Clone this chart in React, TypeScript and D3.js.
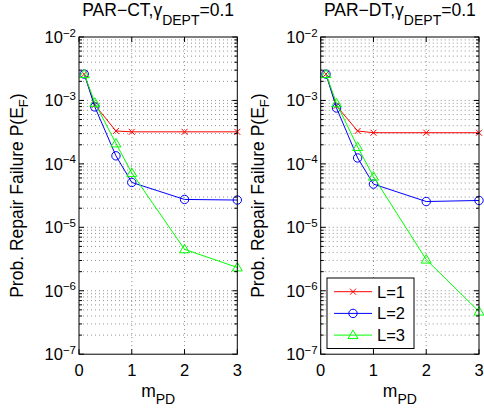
import React from "react";
import * as d3 from "d3";

const xValues = [0.1, 0.3, 0.7, 1, 2, 3];
const seriesNames = ["L=1", "L=2", "L=3"];
const seriesColors = ["#ff0000", "#0000ff", "#00ff00"];
const seriesMarkers = ["x", "o", "^"];

const ctL1 = [2.6e-3, 8.5e-4, 3.3e-4, 3.2e-4, 3.2e-4, 3.2e-4];
const ctL2 = [2.6e-3, 7.9e-4, 1.34e-4, 5.1e-5, 2.75e-5, 2.69e-5];
const ctL3 = [2.6e-3, 9.2e-4, 2.1e-4, 7.2e-5, 4.5e-6, 2.33e-6];

const dtL1 = [2.6e-3, 8.2e-4, 3.3e-4, 3.1e-4, 3.1e-4, 3.1e-4];
const dtL2 = [2.6e-3, 7.6e-4, 1.24e-4, 4.8e-5, 2.55e-5, 2.65e-5];
const dtL3 = [2.6e-3, 9.0e-4, 1.85e-4, 6.3e-5, 3.1e-6, 4.7e-7];

const panelTitles = ["PAR\u2212CT,", "PAR\u2212DT,"];
const xTicks = [0, 1, 2, 3];
const yTickExps = [-2, -3, -4, -5, -6, -7];

const FONT = "'Liberation Sans', Arial, Helvetica, sans-serif";

function Marker({ type, x, y, color }: { type: string; x: number; y: number; color: string }) {
  if (type === "x") {
    const s = 3;
    return (
      <path
        d={`M${x - s},${y - s}L${x + s},${y + s}M${x - s},${y + s}L${x + s},${y - s}`}
        stroke={color}
        strokeWidth={1}
        fill="none"
      />
    );
  }
  if (type === "o") {
    return <circle cx={x} cy={y} r={4.2} stroke={color} strokeWidth={1} fill="none" />;
  }
  const s = 5;
  return (
    <path
      d={`M${x},${y - s}L${x + s},${y + s * 0.7}L${x - s},${y + s * 0.7}Z`}
      stroke={color}
      strokeWidth={1}
      fill="none"
    />
  );
}

function Panel({
  offsetX,
  title,
  data,
  legend,
}: {
  offsetX: number;
  title: string;
  data: number[][];
  legend: boolean;
}) {
  const left = 79 + offsetX;
  const right = left + 158.3;
  const top = 37;
  const bottom = 354.2;
  const x = d3.scaleLinear().domain([0, 3]).range([left, right]);
  const y = d3.scaleLog().domain([1e-7, 1e-2]).range([bottom, top]);

  const minor: number[] = [];
  for (let e = -7; e < -2; e++) {
    for (let k = 2; k <= 9; k++) minor.push(k * Math.pow(10, e));
  }
  const majors = yTickExps.map((e) => Math.pow(10, e));

  const line = d3
    .line<number>()
    .x((_, i) => x(xValues[i]))
    .y((d) => y(d));

  const cx = (left + right) / 2;
  const cy = (top + bottom) / 2;

  return (
    <g fontFamily={FONT}>
      <rect x={left} y={top} width={right - left} height={bottom - top} fill="#fff" />
      {/* grid */}
      {minor.concat(majors.slice(1, -1)).map((v, i) => (
        <line
          key={"hg" + i}
          x1={left}
          x2={right}
          y1={y(v)}
          y2={y(v)}
          stroke="#777"
          strokeWidth={0.8}
          strokeDasharray="1 3"
        />
      ))}
      {[1, 2].map((v) => (
        <line
          key={"vg" + v}
          x1={x(v)}
          x2={x(v)}
          y1={top}
          y2={bottom}
          stroke="#777"
          strokeWidth={0.8}
          strokeDasharray="1 3"
        />
      ))}
      {/* series */}
      {data.map((s, si) => (
        <g key={"s" + si}>
          <path d={line(s) || ""} stroke={seriesColors[si]} strokeWidth={1} fill="none" />
          {s.map((v, i) => (
            <Marker key={i} type={seriesMarkers[si]} x={x(xValues[i])} y={y(v)} color={seriesColors[si]} />
          ))}
        </g>
      ))}
      {/* ticks */}
      {majors.map((v, i) => (
        <g key={"yt" + i}>
          <line x1={left} x2={left + 5} y1={y(v)} y2={y(v)} stroke="#000" />
          <line x1={right} x2={right - 5} y1={y(v)} y2={y(v)} stroke="#000" />
        </g>
      ))}
      {minor.map((v, i) => (
        <g key={"ym" + i}>
          <line x1={left} x2={left + 3} y1={y(v)} y2={y(v)} stroke="#000" />
          <line x1={right} x2={right - 3} y1={y(v)} y2={y(v)} stroke="#000" />
        </g>
      ))}
      {xTicks.map((v) => (
        <g key={"xt" + v}>
          <line x1={x(v)} x2={x(v)} y1={bottom} y2={bottom - 5} stroke="#000" />
          <line x1={x(v)} x2={x(v)} y1={top} y2={top + 5} stroke="#000" />
          <text x={x(v)} y={bottom + 21.5} fontSize={16.5} textAnchor="middle">
            {v}
          </text>
        </g>
      ))}
      {yTickExps.map((e) => (
        <text key={"yl" + e} x={left - 3} y={y(Math.pow(10, e)) + 6} fontSize={16.5} textAnchor="end">
          <tspan>10</tspan>
          <tspan dy={-6.5} fontSize={11.5}>
            {"\u2212" + Math.abs(e)}
          </tspan>
        </text>
      ))}
      <rect x={left} y={top} width={right - left} height={bottom - top} fill="none" stroke="#000" strokeWidth={1} />
      {/* title */}
      <text x={cx} y={15.5} fontSize={17.5} textAnchor="middle">
        <tspan>{title}</tspan>
        <tspan>{"\u03b3"}</tspan>
        <tspan dy={9.5} fontSize={14}>DEPT</tspan>
        <tspan dy={-9.5}>=0.1</tspan>
      </text>
      {/* x label */}
      <text x={cx} y={397} fontSize={17.5} textAnchor="middle">
        <tspan>m</tspan>
        <tspan dy={7} fontSize={14}>PD</tspan>
      </text>
      {/* y label */}
      <text transform={`translate(${offsetX + 22.5},${cy}) rotate(-90)`} fontSize={17.5} textAnchor="middle">
        <tspan>Prob. Repair Failure P(E</tspan>
        <tspan dy={5} fontSize={13}>F</tspan>
        <tspan dy={-5}>)</tspan>
      </text>
      {legend && (
        <g>
          <rect x={327} y={278} width={87} height={70.5} fill="#fff" stroke="#000" strokeWidth={1} />
          {seriesNames.map((n, i) => {
            const ly = 291.7 + i * 21.7;
            return (
              <g key={n}>
                <line x1={334} x2={372} y1={ly} y2={ly} stroke={seriesColors[i]} strokeWidth={1} />
                <Marker type={seriesMarkers[i]} x={353} y={ly} color={seriesColors[i]} />
                <text x={377} y={ly + 6} fontSize={16.5}>
                  {n}
                </text>
              </g>
            );
          })}
        </g>
      )}
    </g>
  );
}

export default function App() {
  return (
    <svg
      width={484}
      height={408}
      style={{ position: "absolute", left: 0, top: 0, background: "#fff" }}
    >
      <rect width={484} height={408} fill="#fff" />
      <Panel offsetX={0} title={panelTitles[0]} data={[ctL1, ctL2, ctL3]} legend={false} />
      <Panel offsetX={241.7} title={panelTitles[1]} data={[dtL1, dtL2, dtL3]} legend={true} />
    </svg>
  );
}
